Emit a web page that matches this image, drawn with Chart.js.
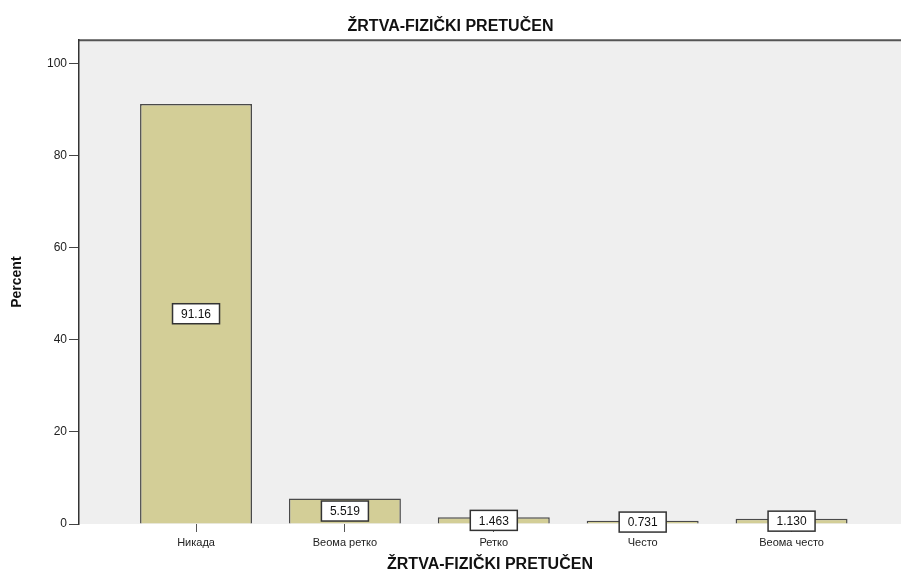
<!DOCTYPE html>
<html>
<head>
<meta charset="utf-8">
<script src="https://cdn.jsdelivr.net/npm/chart.js@4"></script>
<style>
  body { margin: 0; background: #fff; }
  #wrap { width: 901px; height: 573px; }
</style>
</head>
<body>
<div id="wrap"><canvas id="myChart"></canvas></div>
<script>
var categories = ["Никада", "Веома ретко", "Ретко", "Често", "Веома често"];
var percents = [91.16, 5.519, 1.463, 0.731, 1.130];
var valueLabels = ["91.16", "5.519", "1.463", "0.731", "1.130"];
var yTicks = [0, 20, 40, 60, 80, 100];
var chartTitle = "ŽRTVA-FIZIČKI PRETUČEN";

var fontFamily = "'Liberation Sans', Arial, sans-serif";

// grey plot panel + top frame line
var panelPlugin = {
  id: "panel",
  beforeDraw: function (chart) {
    var ctx = chart.ctx, a = chart.chartArea;
    ctx.save();
    ctx.fillStyle = "#efefef";
    ctx.fillRect(a.left, a.top, a.right - a.left, a.bottom - a.top);
    ctx.strokeStyle = "#555";
    ctx.lineWidth = 2;
    ctx.beginPath();
    ctx.moveTo(a.left, a.top);
    ctx.lineTo(a.right, a.top);
    ctx.stroke();
    ctx.restore();
  }
};

// boxed value labels in the middle of each bar
var boxLabels = {
  id: "boxLabels",
  afterDatasetsDraw: function (chart) {
    var ctx = chart.ctx;
    var meta = chart.getDatasetMeta(0);
    ctx.save();
    ctx.font = "12px " + fontFamily;
    ctx.textAlign = "center";
    ctx.textBaseline = "middle";
    meta.data.forEach(function (bar, i) {
      var cy = (bar.y + bar.base) / 2;
      var w = 47, h = 20;
      ctx.fillStyle = "#fff";
      ctx.fillRect(bar.x - w / 2, cy - h / 2, w, h);
      ctx.strokeStyle = "#333";
      ctx.lineWidth = 1.5;
      ctx.strokeRect(bar.x - w / 2, cy - h / 2, w, h);
      ctx.fillStyle = "#111";
      ctx.fillText(valueLabels[i], bar.x, cy + 1);
    });
    ctx.restore();
  }
};

var chart = new Chart(document.getElementById("myChart").getContext("2d"), {
  type: "bar",
  data: {
    datasets: [{
      label: "Percent",
      data: percents.map(function (v, i) { return { x: i, y: v }; }),
      backgroundColor: "#d3ce97",
      borderColor: "#4a4a4a",
      borderWidth: 1.5,
      categoryPercentage: 1,
      barPercentage: 0.752
    }]
  },
  options: {
    responsive: true,
    maintainAspectRatio: false,
    animation: false,
    layout: { padding: 0 },
    plugins: {
      legend: { display: false },
      tooltip: { enabled: false },
      title: {
        display: true,
        text: chartTitle,
        color: "#111",
        font: { family: fontFamily, size: 16, weight: "bold", lineHeight: 1.2 },
        padding: { top: 17, bottom: 4 }
      }
    },
    scales: {
      x: {
        type: "linear",
        offset: false,
        min: -0.786,
        max: 4.735,
        afterBuildTicks: function (scale) {
          scale.ticks = categories.map(function (c, i) { return { value: i }; });
        },
        afterFit: function (scale) { scale.height = 49; },
        ticks: {
          autoSkip: false,
          maxRotation: 0,
          padding: 4,
          color: "#222",
          font: { family: fontFamily, size: 11 },
          callback: function (v) { return categories[v]; }
        },
        grid: { offset: false, drawOnChartArea: false, color: "#555", tickLength: 8 },
        border: { display: false },
        title: {
          display: true,
          text: chartTitle,
          color: "#111",
          font: { family: fontFamily, size: 16, weight: "bold", lineHeight: 1 },
          padding: { top: 0, bottom: 0 }
        }
      },
      y: {
        min: 0,
        max: 105,
        afterBuildTicks: function (scale) {
          scale.ticks = yTicks.map(function (v) { return { value: v }; });
        },
        afterFit: function (scale) { scale.width = 79; },
        ticks: {
          padding: 2,
          color: "#222",
          font: { family: fontFamily, size: 12 }
        },
        grid: { drawOnChartArea: false, color: "#444", tickLength: 10 },
        border: { display: true, color: "#333", width: 1.5 },
        title: {
          display: true,
          text: "Percent",
          color: "#111",
          font: { family: fontFamily, size: 14, weight: "bold", lineHeight: 1 },
          padding: { top: 10, bottom: 0 }
        }
      }
    }
  },
  plugins: [panelPlugin, boxLabels]
});
</script>
</body>
</html>
